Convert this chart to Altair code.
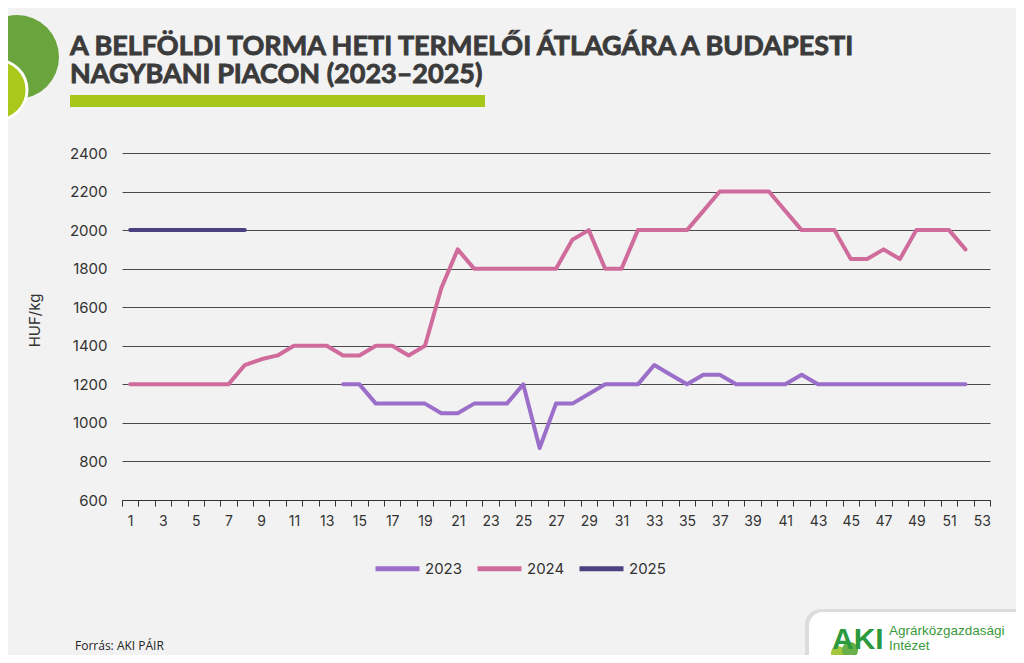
import altair as alt
import pandas as pd

# ---------------- data ----------------
weeks = list(range(1, 53))
years = ["2023", "2024", "2025"]
colors = ["#9b6fc9", "#d06c9c", "#4b4180"]

y2023 = [None, None, None, None, None, None, None, None, None, None, None, None, None,
         1200, 1200, 1100, 1100, 1100, 1100, 1050, 1050, 1100, 1100, 1100, 1200, 870,
         1100, 1100, 1150, 1200, 1200, 1200, 1300, 1250, 1200, 1250, 1250, 1200, 1200,
         1200, 1200, 1250, 1200, 1200, 1200, 1200, 1200, 1200, 1200, 1200, 1200, 1200]
y2024 = [1200, 1200, 1200, 1200, 1200, 1200, 1200, 1300, 1330, 1350, 1400, 1400, 1400,
         1350, 1350, 1400, 1400, 1350, 1400, 1700, 1900, 1800, 1800, 1800, 1800, 1800,
         1800, 1950, 2000, 1800, 1800, 2000, 2000, 2000, 2000, 2100, 2200, 2200, 2200,
         2200, 2100, 2000, 2000, 2000, 1850, 1850, 1900, 1850, 2000, 2000, 2000, 1900]
y2025 = [2000, 2000, 2000, 2000, 2000, 2000, 2000, 2000]

y_ticks = [600, 800, 1000, 1200, 1400, 1600, 1800, 2000, 2200, 2400]
x_tick_bounds = [w - 0.5 for w in range(1, 55)]

title_lines = ["A BELFÖLDI TORMA HETI TERMELŐI ÁTLAGÁRA A BUDAPESTI",
               "NAGYBANI PIACON (2023–2025)"]
y_title = "HUF/kg"
source_text = "Forrás: AKI PÁIR"
logo_mark = "AKI"
logo_lines = ["Agrárközgazdasági", "Intézet"]

rows = []
for yr, vals in zip(years, [y2023, y2024, y2025]):
    for w, v in zip(weeks, vals):
        if v is not None:
            rows.append({"week": w, "price": v, "year": yr})
df = pd.DataFrame(rows)

W, H = 868, 347
step = W / 53.0
FONT = "Inter"

lines = alt.Chart(df).mark_line(strokeWidth=4, strokeCap="round", strokeJoin="round").encode(
    x=alt.X("week:Q",
            scale=alt.Scale(domain=[0.5, 53.5], nice=False, zero=False),
            axis=alt.Axis(values=x_tick_bounds,
                          labelExpr="((datum.value + 0.5) % 2 == 1) ? format(datum.value + 0.5, 'd') : ''",
                          labelOffset=step / 2, labelFlush=False, labelOverlap=False,
                          tickSize=6, tickColor="#333333", domainColor="#333333",
                          labelFont=FONT, labelFontSize=14, labelColor="#333333",
                          labelPadding=8, grid=False, title=None)),
    y=alt.Y("price:Q",
            scale=alt.Scale(domain=[600, 2400], nice=False, zero=False),
            axis=alt.Axis(values=y_ticks, format="d", grid=True, gridColor="#4a4a4a", gridWidth=1,
                          ticks=False, domain=False, labelPadding=15,
                          labelFont=FONT, labelFontSize=15, labelColor="#333333",
                          title=y_title, titleFont=FONT, titleFontSize=15,
                          titleFontWeight="normal", titleColor="#333333",
                          titleX=-88, titleY=167, titleAngle=-90,
                          titleAlign="center", titleBaseline="middle")),
    color=alt.Color("year:N", scale=alt.Scale(domain=years, range=colors),
                    legend=alt.Legend(title=None, orient="none", direction="horizontal",
                                      legendX=251, legendY=391, symbolType="stroke",
                                      symbolSize=1936, symbolStrokeWidth=5,
                                      labelFont=FONT, labelFontSize=15, labelColor="#333333",
                                      labelOffset=3, columnPadding=4)),
)

one = pd.DataFrame({"k": [0]})

big_circle = alt.Chart(one).mark_circle(size=7056, color="#6aa43c", opacity=1).encode(
    x=alt.value(-105), y=alt.value(-96))
small_circle = alt.Chart(one).mark_point(shape="circle", filled=True, size=3600, fill="#a8c81c",
                                         stroke="white", strokeWidth=3, opacity=1).encode(
    x=alt.value(-125), y=alt.value(-63))

bar = alt.Chart(one).mark_rect(color="#a6c71a").encode(
    x=alt.value(-52), x2=alt.value(363), y=alt.value(-58), y2=alt.value(-46))

title = alt.Chart(pd.DataFrame({"t": ["\n".join(title_lines)]})).mark_text(
    align="left", baseline="alphabetic", font="Lato", fontSize=27, fontWeight="bold",
    color="#3b3b3b", stroke="#3b3b3b", strokeWidth=0.9, lineBreak="\n", lineHeight=28).encode(
    x=alt.value(-52), y=alt.value(-98), text="t:N")

src = alt.Chart(pd.DataFrame({"t": [source_text]})).mark_text(
    align="left", baseline="alphabetic", font="Open Sans", fontSize=12,
    color="#222222").encode(x=alt.value(-47), y=alt.value(497), text="t:N")

logo_shadow = alt.Chart(one).mark_rect(color="#dcdcdc", cornerRadiusTopLeft=16).encode(
    x=alt.value(683), x2=alt.value(910), y=alt.value(456), y2=alt.value(520))
logo_bg = alt.Chart(one).mark_rect(color="#ffffff", cornerRadiusTopLeft=14).encode(
    x=alt.value(687), x2=alt.value(910), y=alt.value(459), y2=alt.value(520))
hill1 = alt.Chart(one).mark_circle(size=200, color="#a5c63a", opacity=1).encode(
    x=alt.value(716), y=alt.value(500))
hill2 = alt.Chart(one).mark_circle(size=260, color="#6ab04a", opacity=1).encode(
    x=alt.value(728), y=alt.value(497))
aki = alt.Chart(pd.DataFrame({"t": [logo_mark]})).mark_text(
    align="left", baseline="alphabetic", font="Liberation Sans", fontSize=30,
    fontWeight="bold", color="#2a9a3c").encode(x=alt.value(710), y=alt.value(496), text="t:N")
lg = alt.Chart(pd.DataFrame({"t": ["\n".join(logo_lines)]})).mark_text(
    align="left", baseline="alphabetic", font="Liberation Sans", fontSize=13.5,
    color="#3a9a3a", lineBreak="\n", lineHeight=15).encode(
    x=alt.value(767), y=alt.value(482), text="t:N")

chart = alt.layer(
    big_circle, small_circle, bar, title, lines, src,
    logo_shadow, logo_bg, hill1, hill2, aki, lg
).properties(
    width=W, height=H,
    autosize=alt.AutoSizeParams(type="none"),
    padding={"left": 114, "top": 145, "right": 26, "bottom": 155},
    background="#f2f2f2",
).configure_view(stroke=None)

chart.save("out.html", embed_options={"renderer": "svg", "actions": False})
